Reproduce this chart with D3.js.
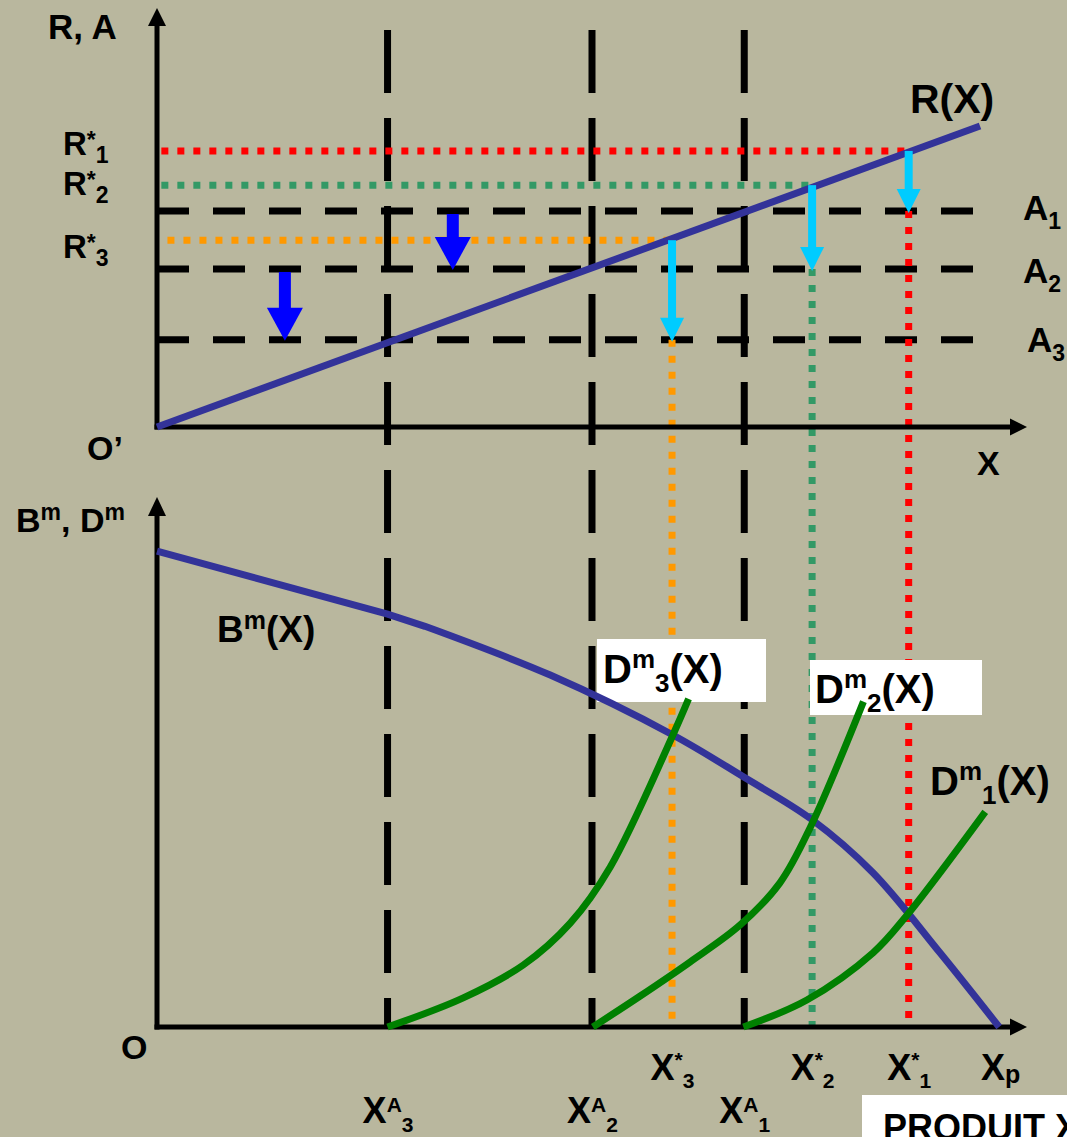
<!DOCTYPE html>
<html>
<head>
<meta charset="utf-8">
<script src="https://cdn.jsdelivr.net/npm/d3@7"></script>
<style>
  html, body { margin: 0; padding: 0; background: #b9b79e; }
  svg { display: block; }
  text { font-family: "Liberation Sans", Arial, Helvetica, sans-serif; font-weight: bold; fill: #000; }
</style>
</head>
<body>
<div id="chart"></div>
<script>
// values, in arbitrary units (0-100 on every axis)
const aLevels = [51.8, 37.9, 20.9];            // A1, A2, A3
const rStar = [66.2, 58.0, 44.8];              // R*1, R*2, R*3
const xStar = [86.4, 75.3, 59.2];              // X*1, X*2, X*3
const xA = [67.5, 50.0, 26.5];                 // XA1, XA2, XA3
const xP = 96.9;
const idx = ['1', '2', '3'];
const rX = [[0, 0], [94.6, 72.2]];             // R(X)
const aDrops = [[34.0, 0, 1], [14.7, 1, 2]];   // x, from A_i, to A_j
const bmX = [[0, 89.8], [26.5, 77.9], [30.8, 75.6], [45.2, 66.4], [59.3, 55.1], [67.4, 47.2],
  [75.3, 39.1], [82.3, 29.1], [90.0, 14.0], [96.8, 0]];
const dm1 = [[67.4, 0], [74.7, 5.1], [82.3, 14.0], [86.2, 21.1], [95.2, 40.6]];
const dm2 = [[50.1, 0], [55.5, 5.8], [61.3, 12.3], [67.0, 19.2], [71.6, 27.2], [75.1, 37.7], [81.2, 61.4]];
const dm3 = [[26.5, 0], [35.2, 5.5], [42.1, 11.7], [47.5, 19.6], [52.1, 30.2], [59.3, 55.1], [61.1, 61.9]];

const levelColors = ['#ff0000', '#339966', '#ff9900'];

const W = 1067, H = 1137;

const svg = d3.select('#chart').append('svg')
    .attr('width', W)
    .attr('height', H);

svg.append('rect')
    .attr('width', W)
    .attr('height', H)
    .attr('fill', '#b9b79e');

// one x scale shared by both panels
const x = d3.scaleLinear().domain([0, 100]).range([157, 1027]);
const yT = d3.scaleLinear().domain([0, 100]).range([427, 10]);
const yB = d3.scaleLinear().domain([0, 100]).range([1027, 497]);

// straight arrow: shaft + triangular head
function arrow(g, x1, y1, x2, y2, w, headL, headW, color) {
  const len = Math.hypot(x2 - x1, y2 - y1);
  const ux = (x2 - x1) / len, uy = (y2 - y1) / len;
  const bx = x2 - ux * headL, by = y2 - uy * headL;
  g.append('line')
      .attr('x1', x1).attr('y1', y1)
      .attr('x2', bx + ux).attr('y2', by + uy)
      .attr('stroke', color)
      .attr('stroke-width', w);
  g.append('path')
      .attr('d', `M${x2},${y2}L${bx - uy * headW / 2},${by + ux * headW / 2}L${bx + uy * headW / 2},${by - ux * headW / 2}Z`)
      .attr('fill', color);
}

// text with sub / superscripts
function rich(t, size, parts, opt) {
  t.attr('font-size', size);
  let cur = 0;
  parts.forEach(p => {
    const [s, kind] = typeof p === 'string' ? [p, null] : p;
    const off = kind === 'sup' ? opt.sup : kind === 'sub' ? opt.sub : 0;
    const ts = t.append('tspan').attr('dy', off - cur).text(s);
    if (kind) ts.attr('font-size', opt.small);
    cur = off;
  });
  return t;
}

function label(px, py, size, parts, opt = {}) {
  const t = svg.append('text')
      .attr('x', px)
      .attr('y', py)
      .attr('text-anchor', opt.anchor || 'start');
  return rich(t, size, parts, opt);
}

// dashed guides: A levels and XA thresholds
const dashed = svg.append('g')
    .attr('stroke', '#000')
    .attr('stroke-width', 7);

dashed.selectAll('.a-line')
    .data(aLevels)
  .join('line')
    .attr('class', 'a-line')
    .attr('x1', x(0))
    .attr('x2', x(93.8))
    .attr('y1', d => yT(d))
    .attr('y2', d => yT(d))
    .attr('stroke-dasharray', '32 24');

dashed.selectAll('.xa-line')
    .data(xA)
  .join('line')
    .attr('class', 'xa-line')
    .attr('x1', d => x(d))
    .attr('x2', d => x(d))
    .attr('y1', yT(95.2))
    .attr('y2', yB(0))
    .attr('stroke-dasharray', '63 25');

// dotted projections R*i -> X*i
const dotted = svg.append('g')
    .attr('stroke-width', 7)
    .attr('stroke-dasharray', '7 9');

dotted.selectAll('.r-dot')
    .data(rStar)
  .join('line')
    .attr('class', 'r-dot')
    .attr('stroke', (d, i) => levelColors[i])
    .attr('x1', (d, i) => x(i === 2 ? 1.2 : 0.5))
    .attr('x2', (d, i) => x(xStar[i]))
    .attr('y1', d => yT(d))
    .attr('y2', d => yT(d));

dotted.selectAll('.x-dot')
    .data(xStar)
  .join('line')
    .attr('class', 'x-dot')
    .attr('stroke', (d, i) => levelColors[i])
    .attr('x1', d => x(d))
    .attr('x2', d => x(d))
    .attr('y1', (d, i) => yT(aLevels[i]))
    .attr('y2', yB(0));

// axes
const axes = svg.append('g');
arrow(axes, x(0), yT(0) + 2.5, x(0), yT(100) - 2, 5, 18, 18, '#000');
arrow(axes, x(0) - 2.5, yT(0), x(100), yT(0), 5, 17, 17, '#000');
arrow(axes, x(0), yB(0) + 2.5, x(0), yB(100), 5, 19, 18, '#000');
arrow(axes, x(0) - 2.5, yB(0), x(100), yB(0), 5, 17, 17, '#000');

// white label boxes
svg.append('rect').attr('x', 597).attr('y', 639).attr('width', 169).attr('height', 63).attr('fill', '#fff');
svg.append('rect').attr('x', 810).attr('y', 660).attr('width', 172).attr('height', 55).attr('fill', '#fff');
svg.append('rect').attr('x', 862).attr('y', 1095).attr('width', 260).attr('height', 80).attr('fill', '#fff');

// curves
const lineT = d3.line().x(d => x(d[0])).y(d => yT(d[1]));
const lineB = d3.line().x(d => x(d[0])).y(d => yB(d[1]));
const smoothB = d3.line().x(d => x(d[0])).y(d => yB(d[1])).curve(d3.curveCatmullRom.alpha(0.5));

svg.append('path')
    .attr('d', lineT(rX))
    .attr('fill', 'none')
    .attr('stroke', '#333399')
    .attr('stroke-width', 7);

// B^m: straight first part, then bending down
const bmPath = lineB(bmX.slice(0, 3)) + smoothB(bmX.slice(2)).replace(/^M/, 'L');
svg.append('path')
    .attr('d', bmPath)
    .attr('fill', 'none')
    .attr('stroke', '#333399')
    .attr('stroke-width', 7);

svg.selectAll('.dm')
    .data([dm1, dm2, dm3])
  .join('path')
    .attr('class', 'dm')
    .attr('d', d => smoothB(d))
    .attr('fill', 'none')
    .attr('stroke', '#008000')
    .attr('stroke-width', 7);

// shift arrows
const arrows = svg.append('g');
xStar.forEach((d, i) => {
  arrow(arrows, x(d), yT(rStar[i]), x(d), yT(aLevels[i]) + 2, 8, 24, 24, '#00ccff');
});
aDrops.forEach(([v, a, b]) => {
  arrow(arrows, x(v), yT(aLevels[a]) + 3, x(v), yT(aLevels[b]) + 1, 12, 33, 36, '#0000ff');
});

// ---- texts ----
label(48, 39, 35, ['R, A']);
label(87, 460, 34, ['O\u2019']);
label(977, 475, 34, ['X']);
label(16, 532, 34, ['B', ['m', 'sup'], ', D', ['m', 'sup']], {small: 23, sup: -12});
label(121, 1059, 34, ['O']);
label(910, 113, 41, ['R(X)']);
label(217, 642, 37, ['B', ['m', 'sup'], '(X)'], {small: 25, sup: -13});

const rLabelDy = [4, 10, 18];
rStar.forEach((d, i) => {
  label(63, yT(d) + rLabelDy[i], 33, ['R', ['*', 'sup'], [idx[i], 'sub']], {small: 23, sup: -7, sub: 8});
});

const aLabelDy = [9, 14, 12];
aLevels.forEach((d, i) => {
  label(i === 2 ? 1027 : 1023, yT(d) + aLabelDy[i], 35, ['A', [idx[i], 'sub']], {small: 23, sub: 9});
});

const dmOpt = {small: 26, sup: -15, sub: 9};
label(603, 683, 40, ['D', ['m', 'sup'], ['3', 'sub'], '(X)'], dmOpt);
label(815, 703, 40, ['D', ['m', 'sup'], ['2', 'sub'], '(X)'], dmOpt);
label(930, 795, 40, ['D', ['m', 'sup'], ['1', 'sub'], '(X)'], dmOpt);

// cropped at the edge, as in the original slide
label(883, 1140, 36, ['PRODUIT X']);

// tick labels on the bottom axis
const starTicks = [...xStar, xP];
const starAxis = d3.axisBottom(x)
    .tickValues(starTicks)
    .tickSize(0)
    .tickFormat('');

const gStar = svg.append('g')
    .attr('transform', 'translate(0,1080)')
    .call(starAxis);
gStar.select('.domain').remove();
gStar.selectAll('.tick text')
    .attr('y', 0)
    .attr('dy', null)
    .each(function(d, i) {
      if (i < 3) {
        rich(d3.select(this), 36, ['X', ['*', 'sup'], [idx[i], 'sub']], {small: 21, sup: -13, sub: 8});
      } else {
        rich(d3.select(this), 36, ['X', ['p', 'sub']], {small: 25, sub: 3});
      }
    });

const aAxis = d3.axisBottom(x)
    .tickValues(xA)
    .tickSize(0)
    .tickFormat('');

const gA = svg.append('g')
    .attr('transform', 'translate(0,1123)')
    .call(aAxis);
gA.select('.domain').remove();
gA.selectAll('.tick text')
    .attr('y', 0)
    .attr('dy', null)
    .each(function(d, i) {
      rich(d3.select(this), 36, ['X', ['A', 'sup'], [idx[i], 'sub']], {small: 21, sup: -11.5, sub: 9});
    });
</script>
</body>
</html>
